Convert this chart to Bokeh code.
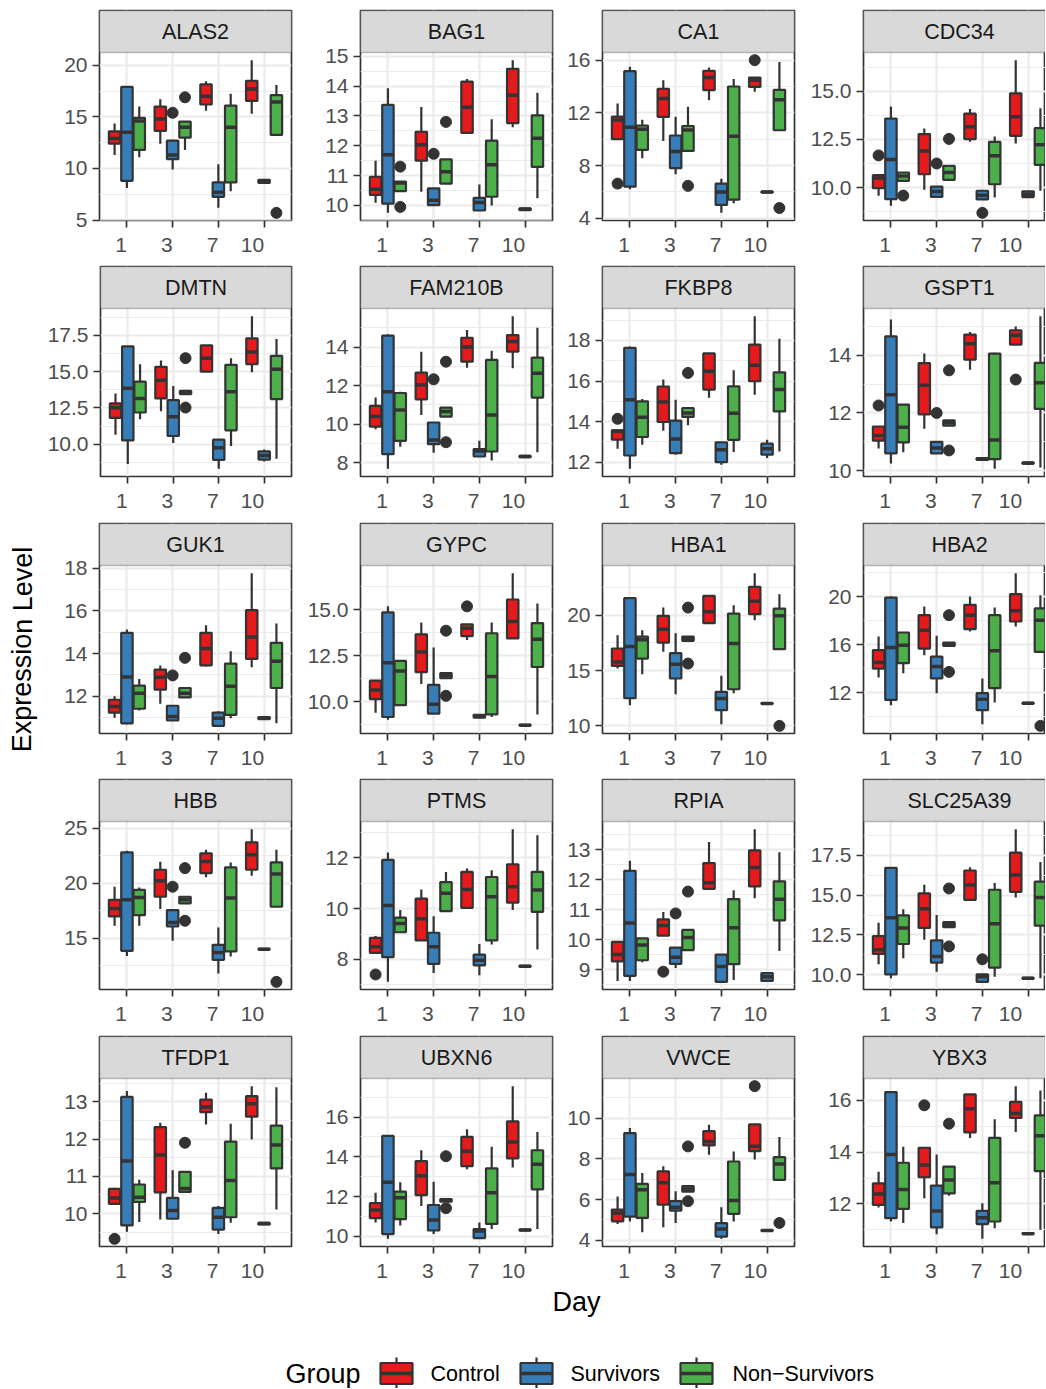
from bokeh.plotting import figure
from bokeh.layouts import row, column
from bokeh.models import Range1d, FixedTicker, BoxAnnotation, Label, ColumnDataSource, NumeralTickFormatter
from bokeh.transform import dodge
from bokeh.embed import file_html
from bokeh.resources import INLINE
from bokeh.core.properties import value

# ---------------- data ----------------
DAYS = ["1", "3", "7", "10"]
GROUPS = ["Control", "Survivors", "Non-Survivors"]
COLORS = ["#E41A1C", "#377EB8", "#4DAF4A"]
GENES = ["ALAS2", "BAG1", "CA1", "CDC34", "DMTN", "FAM210B", "FKBP8", "GSPT1",
         "GUK1", "GYPC", "HBA1", "HBA2", "HBB", "PTMS", "RPIA", "SLC25A39",
         "TFDP1", "UBXN6", "VWCE", "YBX3"]

# order of the 12 boxes: day1 (C, S, N), day3 (C, S, N), day7 (...), day10 (...)
ALAS2 = dict(
    lower=[11.3, 8.1, 11.1, 12.4, 9.9, 11.8, 15.6, 6.2, 7.8, 15.3, 8.55, 13.25],
    q1=[12.4, 8.8, 11.8, 13.65, 10.9, 13.0, 16.2, 7.25, 8.65, 16.55, 8.6, 13.25],
    median=[12.9, 13.5, 14.6, 14.8, 11.3, 14.0, 17.0, 7.7, 14.0, 17.7, 8.77, 16.45],
    q3=[13.6, 17.9, 14.9, 16.0, 12.7, 14.55, 18.15, 8.65, 16.1, 18.5, 8.9, 17.1],
    upper=[14.35, 18.0, 16.0, 16.7, 12.7, 14.55, 18.45, 10.4, 17.25, 20.5, 8.95, 18.1],
    outliers=[("3", "Survivors", 15.4), ("3", "Non-Survivors", 16.9), ("10", "Non-Survivors", 5.7)],
    breaks=[5, 10, 15, 20])
BAG1 = dict(
    lower=[10.09, 9.75, 10.48, 10.46, 10.01, 10.73, 12.43, 9.83, 10.0, 12.62, 9.82, 10.24],
    q1=[10.35, 10.06, 10.48, 11.5, 10.01, 10.73, 12.43, 9.83, 10.29, 12.76, 9.84, 11.29],
    median=[10.54, 11.7, 10.75, 12.03, 10.17, 11.13, 13.29, 10.1, 11.36, 13.69, 9.87, 12.25],
    q3=[10.96, 13.37, 10.8, 12.47, 10.57, 11.54, 14.15, 10.25, 12.17, 14.58, 9.9, 13.02],
    upper=[11.5, 13.93, 10.8, 13.3, 10.57, 11.54, 14.24, 10.7, 12.89, 14.87, 9.92, 13.78],
    outliers=[("1", "Non-Survivors", 11.3), ("1", "Non-Survivors", 9.95), ("3", "Survivors", 11.73), ("3", "Non-Survivors", 12.8)],
    breaks=[10, 11, 12, 13, 14, 15])
CA1 = dict(
    lower=[10.0, 6.2, 8.56, 9.87, 7.34, 9.11, 12.96, 4.41, 5.14, 13.6, 5.95, 10.68],
    q1=[10.0, 6.4, 9.19, 11.7, 7.8, 9.11, 13.72, 5.01, 5.42, 13.97, 5.97, 10.68],
    median=[11.45, 10.9, 10.75, 13.09, 9.06, 10.7, 14.68, 6.0, 10.23, 14.48, 6.0, 13.0],
    q3=[11.72, 15.16, 11.04, 13.82, 10.28, 11.0, 15.19, 6.63, 14.0, 14.68, 6.03, 13.75],
    upper=[12.7, 15.5, 11.47, 14.48, 11.7, 12.46, 15.44, 7.0, 14.56, 14.68, 6.05, 15.85],
    outliers=[("1", "Control", 6.63), ("3", "Non-Survivors", 6.46), ("10", "Control", 16.0), ("10", "Non-Survivors", 4.78)],
    breaks=[4, 8, 12, 16])
CDC34 = dict(
    lower=[9.57, 9.05, 10.35, 9.88, 9.51, 10.4, 12.38, 9.38, 9.48, 12.29, 9.48, 9.83],
    q1=[9.97, 9.39, 10.35, 10.69, 9.51, 10.4, 12.52, 9.38, 10.17, 12.69, 9.5, 11.18],
    median=[10.49, 11.46, 10.6, 11.9, 9.79, 10.78, 13.16, 9.6, 11.65, 13.68, 9.65, 12.22],
    q3=[10.64, 13.59, 10.78, 12.78, 10.05, 11.13, 13.85, 9.83, 12.38, 14.9, 9.8, 13.09],
    upper=[10.64, 14.22, 10.78, 13.07, 10.05, 11.13, 14.08, 9.83, 12.66, 16.63, 9.82, 14.13],
    outliers=[("1", "Control", 11.67), ("1", "Non-Survivors", 9.58), ("3", "Survivors", 11.25), ("3", "Non-Survivors", 12.53), ("7", "Survivors", 8.68)],
    breaks=[10.0, 12.5, 15.0])
DMTN = dict(
    lower=[10.66, 8.65, 11.73, 12.28, 10.09, 13.46, 15.0, 8.31, 9.88, 14.96, 8.82, 9.0],
    q1=[11.82, 10.27, 12.19, 13.16, 10.57, 13.46, 15.0, 8.93, 10.96, 15.51, 8.95, 13.11],
    median=[12.51, 13.85, 13.16, 14.41, 11.89, 13.57, 15.93, 9.76, 13.62, 16.35, 9.23, 15.17],
    q3=[12.81, 16.74, 14.31, 15.33, 13.04, 13.67, 16.81, 10.32, 15.47, 17.29, 9.51, 16.09],
    upper=[13.5, 16.74, 15.51, 15.77, 14.01, 13.67, 16.81, 10.32, 15.93, 18.82, 9.65, 17.25],
    outliers=[("3", "Non-Survivors", 15.93), ("3", "Non-Survivors", 12.53)],
    breaks=[10.0, 12.5, 15.0, 17.5])
FAM210B = dict(
    lower=[9.74, 7.69, 8.84, 10.48, 8.53, 10.4, 12.93, 8.33, 8.12, 12.9, 8.28, 8.55],
    q1=[9.88, 8.45, 9.14, 11.29, 8.97, 10.4, 13.24, 8.33, 8.59, 13.76, 8.3, 11.38],
    median=[10.4, 11.69, 10.74, 12.03, 9.19, 10.66, 14.0, 8.62, 10.48, 14.28, 8.33, 12.64],
    q3=[10.95, 14.59, 11.62, 12.67, 10.09, 10.86, 14.48, 8.72, 13.33, 14.62, 8.36, 13.45],
    upper=[11.38, 14.66, 11.69, 13.76, 10.09, 10.86, 14.88, 9.14, 13.81, 15.6, 8.38, 15.0],
    outliers=[("3", "Survivors", 12.33), ("3", "Non-Survivors", 13.24), ("3", "Non-Survivors", 9.07)],
    breaks=[8, 10, 12, 14, 16])
FKBP8 = dict(
    lower=[12.66, 11.67, 12.86, 13.55, 12.37, 13.82, 15.17, 11.87, 12.5, 15.33, 12.2, 12.53],
    q1=[13.11, 12.33, 13.24, 13.98, 12.45, 14.23, 15.58, 12.0, 13.1, 15.99, 12.37, 14.5],
    median=[13.52, 15.08, 14.21, 14.97, 13.14, 14.42, 16.48, 12.61, 14.41, 16.78, 12.66, 15.58],
    q3=[13.57, 17.64, 15.0, 15.73, 14.05, 14.67, 17.36, 12.98, 15.74, 17.8, 12.91, 16.43],
    upper=[13.57, 17.7, 15.12, 16.07, 15.08, 14.67, 17.36, 12.98, 16.53, 19.2, 13.1, 18.08],
    outliers=[("1", "Control", 14.14), ("3", "Non-Survivors", 16.4)],
    breaks=[12, 14, 16, 18])
GSPT1 = dict(
    lower=[10.77, 10.25, 10.64, 11.45, 10.6, 11.56, 13.5, 10.36, 10.06, 14.37, 10.22, 10.11],
    q1=[11.04, 10.6, 10.98, 11.95, 10.6, 11.56, 13.85, 10.37, 10.4, 14.37, 10.24, 12.14],
    median=[11.22, 12.63, 11.5, 12.96, 10.78, 11.66, 14.4, 10.4, 11.06, 14.7, 10.26, 13.05],
    q3=[11.53, 14.66, 12.29, 13.73, 11.0, 11.74, 14.72, 10.43, 14.06, 14.87, 10.28, 13.74],
    upper=[11.53, 15.24, 12.29, 14.06, 11.0, 11.74, 14.81, 10.44, 14.09, 15.0, 10.3, 15.36],
    outliers=[("1", "Control", 12.26), ("3", "Survivors", 12.0), ("3", "Non-Survivors", 13.48), ("3", "Non-Survivors", 10.7), ("10", "Control", 13.16)],
    breaks=[10, 12, 14])
GUK1 = dict(
    lower=[11.0, 10.7, 11.34, 11.65, 10.87, 11.95, 13.4, 10.62, 10.98, 13.36, 10.9, 10.74],
    q1=[11.24, 10.74, 11.42, 12.31, 10.87, 11.95, 13.45, 10.62, 11.13, 13.75, 10.93, 12.39],
    median=[11.53, 12.91, 12.15, 12.89, 11.06, 12.15, 14.24, 10.98, 12.47, 14.77, 10.98, 13.64],
    q3=[11.84, 14.97, 12.5, 13.25, 11.56, 12.39, 14.97, 11.24, 13.53, 16.03, 11.03, 14.5],
    upper=[12.0, 15.13, 12.81, 13.44, 11.56, 12.39, 15.32, 11.3, 14.11, 17.76, 11.06, 15.41],
    outliers=[("3", "Survivors", 12.98), ("3", "Non-Survivors", 13.8)],
    breaks=[12, 14, 16, 18])
GYPC = dict(
    lower=[9.41, 9.03, 9.82, 10.97, 9.36, 11.28, 13.35, 9.1, 9.18, 13.44, 8.7, 9.32],
    q1=[10.15, 9.18, 9.82, 11.61, 9.36, 11.28, 13.57, 9.14, 9.32, 13.44, 8.72, 11.89],
    median=[10.64, 12.12, 11.67, 12.71, 9.87, 11.43, 13.99, 9.23, 11.37, 14.36, 8.74, 13.39],
    q3=[11.15, 14.85, 12.22, 13.66, 10.92, 11.56, 14.21, 9.3, 13.72, 15.55, 8.76, 14.27],
    upper=[11.15, 15.18, 12.22, 14.3, 12.95, 11.56, 14.21, 9.34, 14.3, 16.98, 8.78, 15.33],
    outliers=[("3", "Non-Survivors", 13.86), ("3", "Non-Survivors", 10.33), ("7", "Control", 15.18)],
    breaks=[10.0, 12.5, 15.0])
HBA1 = dict(
    lower=[15.18, 11.87, 14.67, 16.69, 12.86, 17.68, 19.28, 10.15, 12.95, 19.55, 11.95, 16.93],
    q1=[15.42, 12.5, 16.08, 17.53, 14.28, 17.68, 19.28, 11.42, 13.31, 20.09, 11.98, 16.93],
    median=[15.78, 17.17, 17.77, 18.73, 15.57, 17.89, 20.3, 12.47, 17.44, 21.27, 12.02, 19.94],
    q3=[16.99, 21.54, 18.07, 19.94, 16.57, 18.07, 21.75, 13.07, 20.15, 22.56, 12.06, 20.6],
    upper=[18.19, 21.54, 18.64, 20.69, 18.37, 18.07, 21.75, 14.52, 20.9, 23.8, 12.1, 21.9],
    outliers=[("3", "Non-Survivors", 20.69), ("3", "Non-Survivors", 15.63), ("10", "Non-Survivors", 10.0)],
    breaks=[10, 15, 20])
HBA2 = dict(
    lower=[13.26, 10.95, 13.62, 15.13, 11.95, 15.9, 17.1, 9.36, 11.17, 17.52, 11.05, 15.4],
    q1=[14.01, 11.39, 14.46, 15.68, 13.18, 15.9, 17.3, 10.53, 12.37, 17.94, 11.08, 15.4],
    median=[14.51, 15.77, 15.96, 17.21, 14.18, 16.04, 18.47, 11.45, 15.49, 18.83, 11.11, 18.05],
    q3=[15.54, 19.94, 17.02, 18.47, 15.01, 16.18, 19.33, 11.95, 18.47, 20.22, 11.14, 19.03],
    upper=[16.69, 20.05, 17.02, 19.19, 16.74, 16.18, 20.03, 13.18, 19.11, 21.98, 11.17, 20.14],
    outliers=[("3", "Non-Survivors", 18.47), ("3", "Non-Survivors", 13.73), ("10", "Non-Survivors", 9.22)],
    breaks=[12, 16, 20])
HBB = dict(
    lower=[16.12, 13.39, 16.12, 17.64, 14.76, 18.15, 20.52, 11.79, 13.33, 20.67, 13.94, 17.85],
    q1=[16.97, 13.85, 17.09, 18.76, 16.06, 18.15, 20.91, 13.03, 13.79, 21.21, 13.97, 17.85],
    median=[17.7, 18.48, 18.7, 20.21, 16.42, 18.48, 21.97, 13.7, 18.64, 22.58, 14.0, 20.82],
    q3=[18.48, 22.79, 19.39, 21.21, 17.55, 18.76, 22.7, 14.39, 21.42, 23.7, 14.03, 21.88],
    upper=[19.67, 22.94, 19.6, 21.94, 17.55, 18.76, 23.03, 15.97, 21.88, 24.9, 14.06, 23.03],
    outliers=[("3", "Survivors", 19.67), ("3", "Non-Survivors", 21.36), ("3", "Non-Survivors", 16.58), ("10", "Non-Survivors", 11.03)],
    breaks=[15, 20, 25])
PTMS = dict(
    lower=[8.26, 7.12, 9.07, 8.75, 7.47, 9.9, 10.03, 7.38, 8.59, 9.94, 7.7, 8.39],
    q1=[8.26, 8.09, 9.07, 8.75, 7.83, 9.9, 10.03, 7.77, 8.75, 10.23, 7.72, 9.87],
    median=[8.5, 10.12, 9.41, 9.6, 8.5, 10.6, 10.75, 7.97, 10.46, 10.86, 7.73, 10.73],
    q3=[8.85, 11.91, 9.64, 10.39, 9.05, 11.04, 11.44, 8.19, 11.24, 11.74, 7.75, 11.44],
    upper=[8.92, 12.2, 9.94, 10.75, 9.7, 11.44, 11.57, 8.61, 11.5, 13.12, 7.77, 12.88],
    outliers=[("1", "Control", 7.41)],
    breaks=[8, 10, 12])
RPIA = dict(
    lower=[8.63, 8.63, 9.25, 10.14, 9.06, 9.66, 11.7, 8.6, 8.66, 11.39, 8.6, 9.63],
    q1=[9.28, 8.8, 9.32, 10.14, 9.2, 9.66, 11.7, 8.6, 9.19, 11.78, 8.63, 10.65],
    median=[9.51, 10.56, 9.83, 10.48, 9.42, 10.08, 11.9, 9.11, 10.4, 12.41, 8.77, 11.35],
    q3=[9.93, 12.3, 10.05, 10.68, 9.74, 10.33, 12.56, 9.51, 11.36, 12.98, 8.89, 11.95],
    upper=[9.93, 12.64, 10.05, 10.93, 9.74, 10.33, 13.26, 9.51, 11.65, 13.69, 8.92, 12.92],
    outliers=[("3", "Control", 8.94), ("3", "Survivors", 10.88), ("3", "Non-Survivors", 11.61)],
    breaks=[9, 10, 11, 12, 13])
SLC25A39 = dict(
    lower=[10.66, 9.77, 11.04, 12.2, 10.19, 12.99, 14.7, 9.55, 9.87, 14.85, 9.72, 9.77],
    q1=[11.31, 10.02, 11.93, 12.94, 10.76, 12.99, 14.7, 9.55, 10.45, 15.21, 9.75, 13.09],
    median=[11.57, 13.58, 12.94, 14.15, 11.14, 13.16, 15.64, 9.87, 13.2, 16.27, 9.77, 14.85],
    q3=[12.42, 16.72, 13.73, 15.11, 12.16, 13.3, 16.55, 10.02, 15.34, 17.67, 9.8, 15.85],
    upper=[13.26, 16.72, 14.11, 15.66, 13.75, 13.3, 16.76, 10.02, 15.76, 19.15, 9.82, 17.08],
    outliers=[("3", "Non-Survivors", 15.42), ("3", "Non-Survivors", 11.78), ("7", "Survivors", 10.97)],
    breaks=[10.0, 12.5, 15.0, 17.5])
TFDP1 = dict(
    lower=[10.26, 9.51, 9.77, 9.84, 9.86, 10.58, 12.39, 9.45, 9.75, 11.99, 9.69, 10.11],
    q1=[10.26, 9.68, 10.31, 10.57, 9.86, 10.58, 12.72, 9.57, 9.9, 12.6, 9.71, 11.21],
    median=[10.42, 11.41, 10.44, 11.57, 10.08, 10.67, 12.86, 9.9, 10.89, 12.95, 9.73, 11.84],
    q3=[10.66, 13.13, 10.78, 12.32, 10.42, 11.12, 13.06, 10.15, 11.93, 13.15, 9.75, 12.36],
    upper=[10.69, 13.29, 10.91, 12.44, 11.16, 11.12, 13.24, 10.2, 12.41, 13.42, 9.77, 13.39],
    outliers=[("1", "Control", 9.32), ("3", "Non-Survivors", 11.9)],
    breaks=[10, 11, 12, 13])
UBXN6 = dict(
    lower=[10.7, 9.88, 10.55, 11.53, 10.13, 11.75, 13.37, 9.92, 10.37, 13.47, 10.28, 10.38],
    q1=[10.92, 10.12, 10.87, 12.08, 10.3, 11.75, 13.53, 9.92, 10.63, 13.92, 10.3, 12.37],
    median=[11.33, 12.72, 11.95, 13.05, 10.83, 11.82, 14.28, 10.28, 12.2, 14.75, 10.32, 13.63],
    q3=[11.67, 15.05, 12.25, 13.78, 11.58, 11.88, 15.0, 10.37, 13.42, 15.78, 10.34, 14.33],
    upper=[12.2, 15.05, 12.72, 14.33, 12.75, 11.88, 15.38, 10.7, 14.5, 17.55, 10.36, 15.25],
    outliers=[("3", "Non-Survivors", 14.03), ("3", "Non-Survivors", 11.42)],
    breaks=[10, 12, 14, 16])
VWCE = dict(
    lower=[4.8, 4.92, 4.39, 4.64, 4.85, 6.39, 8.2, 4.07, 4.92, 7.97, 4.44, 6.97],
    q1=[4.93, 5.16, 5.1, 5.75, 5.46, 6.39, 8.66, 4.18, 5.3, 8.38, 4.46, 6.97],
    median=[5.34, 7.23, 6.48, 6.82, 5.62, 6.52, 8.85, 4.56, 5.95, 8.62, 4.48, 7.75],
    q3=[5.51, 9.26, 6.77, 7.38, 5.92, 6.66, 9.36, 4.84, 7.87, 9.69, 4.5, 8.08],
    upper=[6.15, 9.52, 7.3, 7.64, 6.41, 6.66, 9.67, 5.62, 8.36, 9.69, 4.52, 9.07],
    outliers=[("3", "Non-Survivors", 8.61), ("3", "Non-Survivors", 5.92), ("10", "Control", 11.57), ("10", "Non-Survivors", 4.85)],
    breaks=[4, 6, 8, 10])
YBX3 = dict(
    lower=[11.86, 11.32, 11.26, 12.22, 10.83, 12.32, 14.55, 10.65, 11.06, 14.78, 10.82, 11.0],
    q1=[11.96, 11.45, 11.81, 13.03, 11.09, 12.41, 14.76, 11.22, 11.32, 15.32, 10.84, 13.27],
    median=[12.38, 13.91, 12.56, 13.5, 11.73, 12.92, 15.68, 11.47, 12.82, 15.49, 10.85, 14.63],
    q3=[12.79, 16.32, 13.59, 14.17, 12.71, 13.44, 16.23, 11.73, 14.55, 15.94, 10.87, 15.42],
    upper=[13.24, 16.32, 14.21, 14.17, 13.91, 13.44, 16.23, 12.03, 15.27, 16.55, 10.89, 16.38],
    outliers=[("3", "Control", 15.81), ("3", "Non-Survivors", 15.1)],
    breaks=[12, 14, 16])

GENE_DATA = {"ALAS2": ALAS2, "BAG1": BAG1, "CA1": CA1, "CDC34": CDC34, "DMTN": DMTN,
             "FAM210B": FAM210B, "FKBP8": FKBP8, "GSPT1": GSPT1, "GUK1": GUK1, "GYPC": GYPC,
             "HBA1": HBA1, "HBA2": HBA2, "HBB": HBB, "PTMS": PTMS, "RPIA": RPIA,
             "SLC25A39": SLC25A39, "TFDP1": TFDP1, "UBXN6": UBXN6, "VWCE": VWCE, "YBX3": YBX3}

# ---------------- layout / style ----------------
FONT = "Liberation Sans"
DARK = "#333333"
GRID = "#EBEBEB"
FRAME_W = [192, 192, 192, 182]
LEFT_B = [55, 59, 40, 59]
RIGHT_B = [10, 10, 10, 0]
TOP_B = [10, 2, 2, 2, 2]
STRIP_H = 42
PANEL_H = 168
BOTTOM_B = [44, 45, 44, 45, 40]
OFFSETS = [-0.27, 0.0, 0.27]
BOX_W = 0.25
FIG_SPACE = "\u2007"   # pads x labels so they sit right-aligned at their tick (as in the original)


def make_panel(gene, col, r):
    d = GENE_DATA[gene]
    allv = d["lower"] + d["upper"] + [o[2] for o in d["outliers"]]
    vmin, vmax = min(allv), max(allv)
    span = vmax - vmin
    lo, hi = vmin - 0.05 * span, vmax + 0.05 * span
    top = hi + (hi - lo) * STRIP_H / PANEL_H
    fw = FRAME_W[col]
    x_end = 0.4 + 4.2 * fw / 192.0
    p = figure(width=LEFT_B[col] + fw + RIGHT_B[col],
               height=TOP_B[r] + STRIP_H + PANEL_H + BOTTOM_B[r],
               x_range=Range1d(0.4, x_end), y_range=Range1d(lo, top),
               output_backend="svg", toolbar_location=None,
               min_border_left=LEFT_B[col], min_border_right=RIGHT_B[col],
               min_border_top=TOP_B[r], min_border_bottom=BOTTOM_B[r])
    p.background_fill_color = "white"
    p.border_fill_color = "white"
    p.outline_line_color = DARK
    p.outline_line_width = 1.7

    # axes
    p.xaxis.ticker = FixedTicker(ticks=[1, 2, 3, 4], minor_ticks=[])
    p.xaxis.major_label_overrides = {i + 1: lab + FIG_SPACE * len(lab) for i, lab in enumerate(DAYS)}
    brks = d["breaks"]
    step = brks[1] - brks[0]
    minors = [b - step / 2 for b in brks] + [brks[-1] + step / 2]
    p.yaxis.ticker = FixedTicker(ticks=[b for b in brks if lo <= b <= hi],
                                 minor_ticks=[m for m in minors if lo <= m <= hi])
    if any(float(b) != int(b) for b in brks):
        p.yaxis.formatter = NumeralTickFormatter(format="0.0")
    else:
        p.yaxis.formatter = NumeralTickFormatter(format="0")
    for ax in (p.xaxis, p.yaxis):
        ax.axis_line_color = None
        ax.major_tick_line_color = DARK
        ax.major_tick_line_width = 1.7
        ax.major_tick_out = 7
        ax.major_tick_in = 0
        ax.minor_tick_line_color = None
        ax.major_label_text_font = FONT
        ax.major_label_text_font_size = "21px"
        ax.major_label_text_color = "#4D4D4D"
        ax.major_label_standoff = 5
    p.xgrid.grid_line_color = GRID
    p.xgrid.grid_line_width = 2.2
    p.ygrid.grid_line_color = GRID
    p.ygrid.grid_line_width = 2.2
    p.ygrid.minor_grid_line_color = GRID
    p.ygrid.minor_grid_line_width = 1.1

    # boxes
    xs = [di + 1 + OFFSETS[gi] for di in range(4) for gi in range(3)]
    src = ColumnDataSource(dict(x=xs, lower=d["lower"], q1=d["q1"], median=d["median"],
                                q3=d["q3"], upper=d["upper"], color=COLORS * 4))
    p.segment(x0="x", y0="lower", x1="x", y1="q1", source=src, line_color=DARK, line_width=2.2)
    p.segment(x0="x", y0="q3", x1="x", y1="upper", source=src, line_color=DARK, line_width=2.2)
    p.vbar(x="x", width=BOX_W, bottom="q1", top="q3", source=src,
           fill_color="color", line_color=DARK, line_width=2.2)
    p.segment(x0=dodge("x", -BOX_W / 2), y0="median", x1=dodge("x", BOX_W / 2), y1="median",
              source=src, line_color=DARK, line_width=3.5)
    ox = [DAYS.index(dd) + 1 + OFFSETS[GROUPS.index(g)] for dd, g, v in d["outliers"]]
    oy = [v for dd, g, v in d["outliers"]]
    p.scatter(x=ox, y=oy, size=11, color=DARK)

    # strip
    p.add_layout(BoxAnnotation(bottom=hi, top=top, fill_color="#D9D9D9", fill_alpha=1.0,
                               line_color=DARK, line_width=1.7))
    p.add_layout(Label(x=2.5, y=(hi + top) / 2, text=gene, text_align="center",
                       text_baseline="middle", text_font=FONT, text_font_size="21.5px",
                       text_color="#1A1A1A"))
    return p


rows = []
for r in range(5):
    figs = [make_panel(GENES[r * 4 + c], c, r) for c in range(4)]
    rows.append(row(*figs))
grid_col = column(*rows)
total_h = sum(TOP_B[r] + STRIP_H + PANEL_H + BOTTOM_B[r] for r in range(5))

YLAB_W = 44
ylab = figure(width=YLAB_W, height=total_h, x_range=Range1d(0, YLAB_W), y_range=Range1d(0, total_h),
              x_axis_type=None, y_axis_type=None, output_backend="svg", toolbar_location=None,
              min_border=0, outline_line_color=None)
ylab.add_layout(Label(x=22, y=total_h - 649, text="Expression Level", angle=1.5707963,
                      text_align="center", text_baseline="middle", text_font=FONT,
                      text_font_size="27px", text_color="black"))

TOTAL_W = YLAB_W + sum(LEFT_B[c] + FRAME_W[c] + RIGHT_B[c] for c in range(4))

DAY_H = 36
dayfig = figure(width=TOTAL_W, height=DAY_H, x_range=Range1d(0, TOTAL_W), y_range=Range1d(0, DAY_H),
                x_axis_type=None, y_axis_type=None, output_backend="svg", toolbar_location=None,
                min_border=0, outline_line_color=None)
dayfig.add_layout(Label(x=576, y=DAY_H - 15, text="Day", text_align="center", text_baseline="middle",
                        text_font=FONT, text_font_size="27px", text_color="black"))

LEG_H = 66
legfig = figure(width=TOTAL_W, height=LEG_H, x_range=Range1d(0, TOTAL_W), y_range=Range1d(0, LEG_H),
                x_axis_type=None, y_axis_type=None, output_backend="svg", toolbar_location=None,
                min_border=0, outline_line_color=None)
cy = LEG_H - 51
key_cx = [396, 536, 696]
text_x = [430, 570, 732]
legfig.segment(x0=key_cx, y0=[cy + 10.5] * 3, x1=key_cx, y1=[cy + 16] * 3, line_color=DARK, line_width=2.2)
legfig.segment(x0=key_cx, y0=[cy - 10.5] * 3, x1=key_cx, y1=[cy - 15] * 3, line_color=DARK, line_width=2.2)
legfig.quad(left=[x - 16 for x in key_cx], right=[x + 16 for x in key_cx],
            bottom=[cy - 10.5] * 3, top=[cy + 10.5] * 3, fill_color=COLORS,
            line_color=DARK, line_width=2.2)
legfig.segment(x0=[x - 16 for x in key_cx], y0=[cy] * 3, x1=[x + 16 for x in key_cx], y1=[cy] * 3,
               line_color=DARK, line_width=3.5)
legfig.text(x=text_x, y=[cy] * 3, text=["Control", "Survivors", "Non\u2212Survivors"],
            text_font=value(FONT), text_font_size="21.5px", text_baseline="middle",
            text_align="left", text_color="black")
legfig.text(x=[285], y=[cy], text=["Group"], text_font=value(FONT), text_font_size="27px",
            text_baseline="middle", text_align="left", text_color="black")

root = column(row(ylab, grid_col), dayfig, legfig)

open("out.html", "w").write(file_html(root, INLINE))
